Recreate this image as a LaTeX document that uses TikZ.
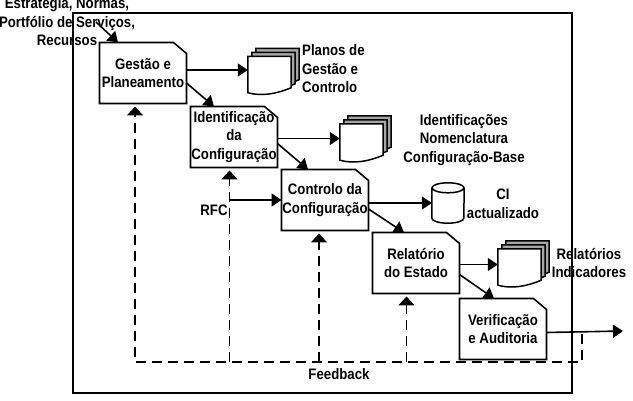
\documentclass[tikz,border=0pt]{standalone}
\usepackage{fontspec}
\setmainfont[FakeStretch=0.87]{Liberation Sans}
\usetikzlibrary{arrows.meta,positioning}

% outline of a step: box with the upper right corner cut off
\newcommand\stepoutline[1]{%
  \draw[procline] (#1.south west) -- (#1.north west) -- ([xshift=-13pt]#1.north east)
    -- ([yshift=-11pt]#1.north east) -- (#1.south east) -- cycle;}

% stack of three pages with a wavy lower edge, drawn round a node
\newcommand\docpages[1]{%
  \foreach \d/\c in {8/gray!70,4/gray!70,0/white}{%
    \draw[docline, fill=\c] ([shift={(\d,-\d)}]#1.south west) -- ([shift={(\d,-\d)}]#1.north west)
      -- ([shift={(\d,-\d)}]#1.north east) -- ([shift={(\d,-\d-5)}]#1.south east)
      .. controls +(-14,6) and +(14,4) .. ([shift={(\d,-\d)}]#1.south west) -- cycle;
  }}

\begin{document}
\begin{tikzpicture}[x=1pt, y=-1pt,
    txt/.style={font=\bfseries\fontsize{15.2}{18.5}\selectfont, align=center, inner sep=0pt},
    proc/.style={minimum width=87pt, minimum height=61pt, inner sep=0pt, outer sep=0pt, txt},
    procline/.style={line width=1.6pt, line join=miter},
    docnode/.style={minimum width=43pt, minimum height=36pt, inner sep=0pt},
    docline/.style={line width=1.5pt, line join=miter},
    arr/.style={-{Triangle[length=10pt,width=13pt]}, line width=1.6pt},
    fbarr/.style={-{Triangle[length=9pt,width=16pt]}, line width=1.6pt, dash pattern=on 10pt off 6pt, shorten >=3pt},
    frame/.style={line width=2pt}
]
\useasboundingbox (0,0) rectangle (633,401);
\draw[frame] (73,13) rectangle (572,393);

% process steps
\node[proc] (gestao) at (143,73) {Gestão e\\Planeamento};
\node[proc, below right=3pt and 4pt of gestao] (ident) {Identificação\\da\\Configuração};
\node[proc, below right=2pt and 4pt of ident] (controlo) {Controlo da\\Configuração};
\node[proc, below right=2pt and 4pt of controlo] (relatorio) {Relatório\\do Estado};
\node[proc, below right=5pt and 0pt of relatorio] (verif) {Verificação\\e Auditoria};
\foreach \n in {gestao,ident,controlo,relatorio,verif}{\stepoutline{\n}}

% outputs
\node[docnode] (planos) at (269.5,74.5) {};
\node[docnode] (identdoc) at (361.5,142) {};
\node[docnode] (reldoc) at (519.5,267) {};
\docpages{planos}
\docpages{identdoc}
\docpages{reldoc}

\node[minimum width=32pt, minimum height=40pt, inner sep=0pt] (ci) at (448,203) {};
\draw[docline, fill=white] ([yshift=-5pt]ci.north west) -- ([yshift=5pt]ci.south west)
  arc[start angle=180, end angle=360, x radius=16pt, y radius=5pt] -- ([yshift=-5pt]ci.north east);
\draw[docline] ([yshift=-5pt]ci.north) ellipse [x radius=16pt, y radius=5pt];

\node[txt, align=left, anchor=west] (planostxt) at (302,69) {Planos de\\Gestão e\\Controlo};
\node[txt] (identtxt) at (464,140) {Identificações\\Nomenclatura\\Configuração-Base};
\node[txt] (citxt) at (503,204) {CI\\actualizado};
\node[txt] (reltxt) at (589,263) {Relatórios\\Indicadores};
\node[txt] (inputs) at (67,22) {Estratégia, Normas,\\Portfólio de Serviços,\\Recursos};
\node[txt] (rfc) at (214,210) {RFC};
\node[txt] (feedback) at (339,374) {Feedback};

\coordinate (inarr) at (96,22);
\coordinate (out) at (623,331);
\coordinate (fbR) at (582,334);
\coordinate (fbB) at (582,362);

% main flow
\draw[arr] (inarr) -- ([xshift=-25pt]gestao.north);
\draw[arr] ([yshift=3pt]gestao.east) -- ([yshift=3pt]gestao.east -| planos.west);
\draw[arr] ([yshift=-10pt]gestao.east) -- ([xshift=-20pt]ident.north);
\draw[arr] ([yshift=-1.5pt]ident.east) -- ([yshift=-1.5pt]ident.east -| identdoc.west);
\draw[arr] ([yshift=-6.5pt]ident.east) -- ([xshift=-17pt]controlo.north);
\draw[arr] ([xshift=-4.5pt]ident.south |- controlo.west) -- (controlo.west);
\draw[arr] ([yshift=-3pt]controlo.east) -- ([yshift=-3pt]controlo.east -| ci.west);
\draw[arr] ([yshift=-9pt]controlo.east) -- ([xshift=-12pt]relatorio.north);
\draw[arr] ([yshift=-1.5pt]relatorio.east) -- ([yshift=-1.5pt]relatorio.east -| reldoc.west);
\draw[arr] ([yshift=-11.5pt]relatorio.east) -- ([xshift=-9pt]verif.north);
\draw[arr] ([yshift=-3.5pt]verif.east) -- (out);

% feedback
\draw[fbarr] (fbR) |- ([xshift=-8pt]gestao.south |- fbB) -- ([xshift=-8pt]gestao.south);
\foreach \n/\s in {ident/-4.5pt, controlo/-6pt, relatorio/-9.5pt}
  \draw[fbarr] ([xshift=\s]\n.south |- fbB) -- ([xshift=\s]\n.south);

\end{tikzpicture}
\end{document}
